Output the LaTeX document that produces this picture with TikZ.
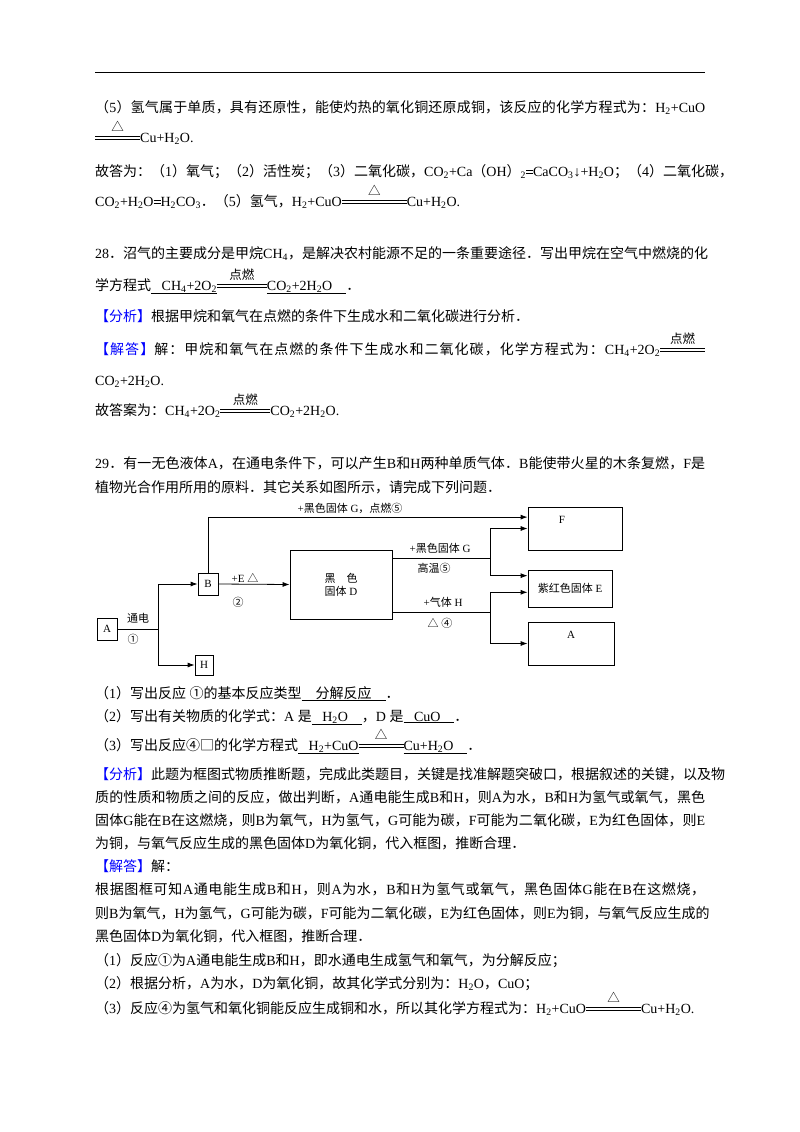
\documentclass[tikz,border=0pt]{standalone}
\usepackage{fontspec}
\setmainfont{Liberation Serif}
\newfontfamily\cjkf{Noto Sans CJK SC}
\newfontfamily\latf{Liberation Serif}
\usetikzlibrary{arrows.meta,calc}
\XeTeXinterchartokenstate=1
\newXeTeXintercharclass\cjkcls
\newcount\cc
\newcommand\setrange[2]{\cc=#1\relax\loop\XeTeXcharclass\cc=\cjkcls\advance\cc 1\relax\ifnum\cc<#2\repeat}
\setrange{"3000}{"3040}
\setrange{"4E00}{"A000}
\setrange{"FF00}{"FFF0}
\setrange{"2460}{"2500}
\setrange{"25A0}{"2600}
\XeTeXinterchartoks 0 \cjkcls = {\hskip0pt plus 2pt\cjkf}
\XeTeXinterchartoks 4095 \cjkcls = {\cjkf}
\XeTeXinterchartoks \cjkcls 0 = {\hskip0pt plus 2pt\latf}
\XeTeXinterchartoks \cjkcls 4095 = {\latf}
\XeTeXinterchartoks \cjkcls \cjkcls = {\hskip0pt plus 2pt}
\newcommand\sub[1]{\textsubscript{#1}}
\newcommand\reac[2]{\makebox[#1]{\rlap{\raisebox{0.18em}{\rule{#1}{0.6pt}}}\rlap{\raisebox{0.38em}{\rule{#1}{0.6pt}}}\hfill\raisebox{0.75em}{\fontsize{12.5}{12}\selectfont #2}\hfill}}
\newcommand\jline[1]{\hbox to 610pt{#1}}
\newcommand\fen{{\color{blue}【分析】}}
\newcommand\jie{{\color{blue}【解答】}}
\begin{document}
\begin{tikzpicture}[x=1pt,y=-1pt,
  t/.style={anchor=base west,inner sep=0pt,font=\fontsize{14}{16}\selectfont},
  d/.style={inner sep=0pt,font=\fontsize{11}{13}\selectfont},
  bx/.style={draw,line width=0.8pt,inner sep=0pt,font=\fontsize{11}{13}\selectfont},
  ar/.style={-{Latex[length=7pt,width=5pt]},line width=0.8pt},
  ln/.style={line width=0.8pt}]
\useasboundingbox (0,0) rectangle (800,1132);
\fill[white] (0,0) rectangle (800,1132);
\draw[line width=0.8pt] (95,72) -- (705,72);
\node[t] (l1) at (95,112) {\jline{（5）氢气属于单质，具有还原性，能使灼热的氧化铜还原成铜，该反应的化学方程式为：H\sub{2}+CuO}};
\node[t] (l2) at (95,142) {\reac{45pt}{△}Cu+H\sub{2}O.};
\node[t] (l3) at (95,176) {\jline{故答为：（1）氧气；（2）活性炭；（3）二氧化碳，CO\sub{2}+Ca（OH）\sub{2}\reac{7pt}{}CaCO\sub{3}↓+H\sub{2}O；（4）二氧化碳，}};
\node[t] (l4) at (95,206) {CO\sub{2}+H\sub{2}O\reac{7pt}{}H\sub{2}CO\sub{3}．（5）氢气，H\sub{2}+CuO\reac{65pt}{△}Cu+H\sub{2}O.};
\node[t] (l5) at (95,258) {\jline{28．沼气的主要成分是甲烷CH\sub{4}，是解决农村能源不足的一条重要途径．写出甲烷在空气中燃烧的化}};
\node[t] (l6) at (95,290) {学方程式\underline{\ \ \ CH\sub{4}+2O\sub{2}}\reac{50pt}{点燃}\underline{CO\sub{2}+2H\sub{2}O\ \ \ \ }．};
\node[t] (l7) at (95,321) {\fen 根据甲烷和氧气在点燃的条件下生成水和二氧化碳进行分析．};
\node[t] (l8) at (95,354) {\jline{\jie 解：甲烷和氧气在点燃的条件下生成水和二氧化碳，化学方程式为：CH\sub{4}+2O\sub{2}\reac{45pt}{点燃}}};
\node[t] (l9) at (95,385) {CO\sub{2}+2H\sub{2}O.};
\node[t] (l10) at (95,415) {故答案为：CH\sub{4}+2O\sub{2}\reac{50pt}{点燃}CO\sub{2}+2H\sub{2}O.};
\node[t] (l11) at (95,468) {\jline{29．有一无色液体A，在通电条件下，可以产生B和H两种单质气体．B能使带火星的木条复燃，F是}};
\node[t] (l12) at (95,492) {植物光合作用所用的原料．其它关系如图所示，请完成下列问题．};
% diagram
\node[bx,minimum width=20pt,minimum height=22pt] (A) at (107,629) {A};
\node[bx,minimum width=20pt,minimum height=22pt] (B) at (208,584) {B};
\node[bx,minimum width=18pt,minimum height=20pt] (H) at (204,665) {H};
\node[bx,minimum width=102pt,minimum height=69pt,align=center] (D) at (341,584.5) {黑\quad 色\\固体 D};
\node[bx,minimum width=94pt,minimum height=43pt] (F) at (575,528.5) {};
\node[d] (Ft) at (562,520) {F};
\node[bx,minimum width=84pt,minimum height=37pt] (E) at (570,588.5) {紫红色固体 E};
\node[bx,minimum width=86pt,minimum height=43pt] (A2) at (571,643.5) {};
\node[d] (A2t) at (571,635) {A};
\coordinate (j1) at (158,629);
\draw[ln] (A.east) -- (j1);
\draw[ar] (j1) |- (B.west);
\draw[ar] (j1) |- (H.west);
\coordinate (fin1) at ($(F.north west)!0.24!(F.south west)$);
\draw[ar] (B.north) |- (fin1);
\draw[ar] (B.east) -- (D.west);
\coordinate (do1) at ($(D.north east)!0.12!(D.south east)$);
\coordinate (do2) at ($(D.north east)!0.9!(D.south east)$);
\coordinate (ein1) at ($(E.north west)!0.16!(E.south west)$);
\coordinate (ein2) at ($(E.north west)!0.6!(E.south west)$);
\coordinate (j2) at (490,0 |- do1);
\coordinate (j3) at (490,0 |- do2);
\draw[ln] (do1) -- (j2);
\draw[ar] (j2) |- (F.west);
\draw[ar] (j2) |- (ein1);
\draw[ln] (do2) -- (j3);
\draw[ar] (j3) |- (ein2);
\draw[ar] (j3) |- (A2.west);
\node[d] (c1) at (138,618) {通电};
\node[d] (c2) at (133,639) {①};
\node[d] (c3) at (350,508) {+黑色固体 G，点燃⑤};
\node[d] (c4) at (245,578) {+E △};
\node[d] (c5) at (238,602) {②};
\node[d] (c6) at (440,548) {+黑色固体 G};
\node[d] (c7) at (434,568) {高温⑤};
\node[d] (c8) at (443,602) {+气体 H};
\node[d] (c9) at (440,623) {△ ④};
% questions
\node[t] (q1) at (95,698) {（1）写出反应 ①的基本反应类型\underline{\ \ \ \ 分解反应\ \ \ \ }．};
\node[t] (q2) at (95,721) {（2）写出有关物质的化学式：A 是\underline{\ \ \ H\sub{2}O\ \ \ \ }，D 是\underline{\ \ \ CuO\ \ \ \ }．};
\node[t] (q3) at (95,750) {（3）写出反应④□的化学方程式\underline{\ \ \ H\sub{2}+CuO}\reac{45pt}{△}\underline{Cu+H\sub{2}O\ \ \ \ }．};
\node[t] (p1) at (95,779) {\jline{\fen 此题为框图式物质推断题，完成此类题目，关键是找准解题突破口，根据叙述的关键，以及物}};
\node[t] (p2) at (95,802) {\jline{质的性质和物质之间的反应，做出判断，A通电能生成B和H，则A为水，B和H为氢气或氧气，黑色}};
\node[t] (p3) at (95,825) {\jline{固体G能在B在这燃烧，则B为氧气，H为氢气，G可能为碳，F可能为二氧化碳，E为红色固体，则E}};
\node[t] (p4) at (95,848) {为铜，与氧气反应生成的黑色固体D为氧化铜，代入框图，推断合理．};
\node[t] (p5) at (95,871) {\jie 解：};
\node[t] (p6) at (95,894) {\jline{根据图框可知A通电能生成B和H，则A为水，B和H为氢气或氧气，黑色固体G能在B在这燃烧，}};
\node[t] (p7) at (95,918) {\jline{则B为氧气，H为氢气，G可能为碳，F可能为二氧化碳，E为红色固体，则E为铜，与氧气反应生成的}};
\node[t] (p8) at (95,941) {黑色固体D为氧化铜，代入框图，推断合理．};
\node[t] (p9) at (95,965) {（1）反应①为A通电能生成B和H，即水通电生成氢气和氧气，为分解反应；};
\node[t] (p10) at (95,988) {（2）根据分析，A为水，D为氧化铜，故其化学式分别为：H\sub{2}O，CuO；};
\node[t] (p11) at (95,1013) {（3）反应④为氢气和氧化铜能反应生成铜和水，所以其化学方程式为：H\sub{2}+CuO\reac{55pt}{△}Cu+H\sub{2}O.};
\end{tikzpicture}
\end{document}
